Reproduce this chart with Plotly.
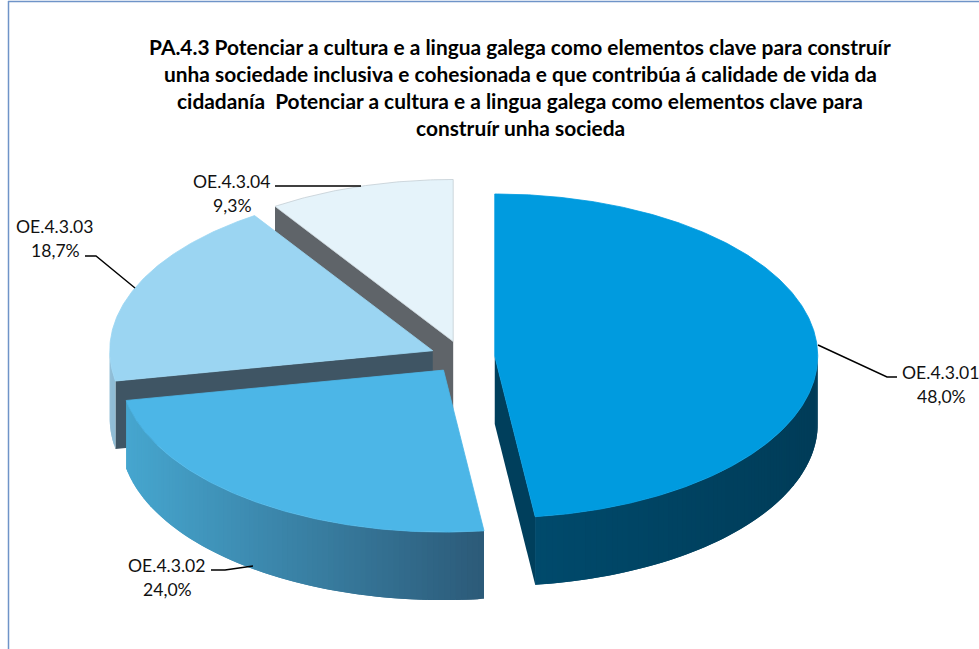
import math
import plotly.graph_objects as go

# ---- data ----
categories = ["OE.4.3.01", "OE.4.3.02", "OE.4.3.03", "OE.4.3.04"]
values = [48.0, 24.0, 18.7, 9.3]
title_lines = [
    "PA.4.3 Potenciar a cultura e a lingua galega como elementos clave para construír",
    "unha sociedade inclusiva e cohesionada e que contribúa á calidade de vida da",
    "cidadanía  Potenciar a cultura e a lingua galega como elementos clave para",
    "construír unha socieda",
]

# ---- style ----
top_colors = ["#009bdf", "#4cb6e7", "#9bd5f2", "#e5f3fa"]
wall_colors = ["#003f5c", None, "#3f5564", "#5f6469"]   # visible cut faces
side_right = ["#003c58", "#2c5a78", "#8fbdd6", "#e5f3fa"]  # outer wall, right end
side_left = ["#004a6c", "#46a6cf", "#8fbdd6", "#e5f3fa"]   # outer wall, left end
FONT = "Lato"
CX, CY, RX, RY, DEPTH, PULL = 462.5, 357.0, 323.0, 162.0, 68.0, 0.10

label_xy = [(941, 372), (167, 565), (55, 226), (232, 181)]
label_dy = 24
leaders = [
    [(818, 345), (887, 377), (897, 377)],
    [(253, 566), (225, 570), (211, 570)],
    [(135, 288), (96, 256), (85, 256)],
    [(361, 186), (275, 186)],
]
frame_color = "#6f94c8"


def hex2rgb(c):
    return tuple(int(c[i:i + 2], 16) for i in (1, 3, 5))


def mix(a, b, t):
    ra, rb = hex2rgb(a), hex2rgb(b)
    return "rgb(%d,%d,%d)" % tuple(round(x + (y - x) * t) for x, y in zip(ra, rb))


def rim(apex, deg, dy=0.0):
    r = math.radians(deg)
    return apex[0] + RX * math.sin(r), apex[1] - RY * math.cos(r) + dy


def poly(fig, pts, color, line=None, lw=0.0):
    fig.add_trace(go.Scatter(
        x=[p[0] for p in pts] + [pts[0][0]],
        y=[p[1] for p in pts] + [pts[0][1]],
        mode="lines", fill="toself", fillcolor=color,
        line=dict(color=line or color, width=lw),
        hoverinfo="skip", showlegend=False))


fig = go.Figure()

# angular extents derive from the values
total = sum(values)
starts, ends = [], []
acc = 0.0
for v in values:
    starts.append(acc)
    acc += v / total * 360.0
    ends.append(acc)

apexes = []
for s, e in zip(starts, ends):
    r = math.radians((s + e) / 2)
    apexes.append((CX + PULL * RX * math.sin(r), CY - PULL * RY * math.cos(r)))


def arc(apex, a, b, dy=0.0, step=0.5):
    n = max(2, int(abs(b - a) / step))
    return [rim(apex, a + (b - a) * i / n, dy) for i in range(n + 1)]


# draw back to front: 4, 3, 2, 1
for i in [3, 2, 1, 0]:
    s, e, ap = starts[i], ends[i], apexes[i]
    # cut face that faces the viewer
    if wall_colors[i]:
        p = rim(ap, e if i == 0 else s)
        poly(fig, [ap, p, (p[0], p[1] + DEPTH), (ap[0], ap[1] + DEPTH)], wall_colors[i])
    # outer wall on the front half, in overlapping gradient strips
    a0, a1 = max(s, 90.0), min(e, 270.0)
    if a1 > a0:
        n = max(1, int((a1 - a0) / 1.0))
        x_r, x_l = rim(ap, a0)[0], rim(ap, a1)[0]
        da = (a1 - a0) / n
        for k in range(n):
            b0 = a0 + da * k
            b1 = min(a1, a0 + da * (k + 2))
            xm = rim(ap, b0 + da / 2)[0]
            t = (x_r - xm) / (x_r - x_l) if x_r != x_l else 0
            col = mix(side_right[i], side_left[i], t)
            pts = arc(ap, b0, b1) + arc(ap, b1, b0, DEPTH)
            poly(fig, pts, col)
    # top surface
    outline = "#c4ced4" if i == 3 else top_colors[i]
    poly(fig, [ap] + arc(ap, s, e), top_colors[i], line=outline, lw=0.8)

# leader lines
for seg in leaders:
    fig.add_trace(go.Scatter(x=[p[0] for p in seg], y=[p[1] for p in seg], mode="lines",
                             line=dict(color="#000000", width=1.4),
                             hoverinfo="skip", showlegend=False))

annotations = []
for cat, v, (lx, ly) in zip(categories, values, label_xy):
    annotations.append(dict(x=lx, y=ly, text=cat, showarrow=False, xref="x", yref="y",
                            font=dict(family=FONT, size=17.6, color="#111111")))
    annotations.append(dict(x=lx, y=ly + label_dy, text=f"{v:.1f}%".replace(".", ","),
                            showarrow=False, xref="x", yref="y",
                            font=dict(family=FONT, size=17.6, color="#111111")))
for j, line in enumerate(title_lines):
    annotations.append(dict(x=520, y=46 + j * 27, text="<b>" + line + "</b>", showarrow=False,
                            xref="x", yref="y",
                            font=dict(family=FONT, size=20.9, color="#000000")))

fig.update_layout(
    width=979, height=649, margin=dict(l=0, r=0, t=0, b=0),
    paper_bgcolor="#ffffff", plot_bgcolor="#ffffff", showlegend=False,
    xaxis=dict(range=[0, 979], visible=False, fixedrange=True),
    yaxis=dict(range=[649, 0], visible=False, fixedrange=True),
    annotations=annotations,
    shapes=[
        dict(type="line", xref="x", yref="y", x0=8.5, x1=8.5, y0=1, y1=649,
             line=dict(color=frame_color, width=1.5)),
        dict(type="line", xref="x", yref="y", x0=8, x1=979, y0=1.5, y1=1.5,
             line=dict(color=frame_color, width=1.5)),
    ],
)
fig.write_html("out.html", config={"displayModeBar": False},
               post_script="document.body.style.margin='0';document.body.style.overflow='hidden';")
